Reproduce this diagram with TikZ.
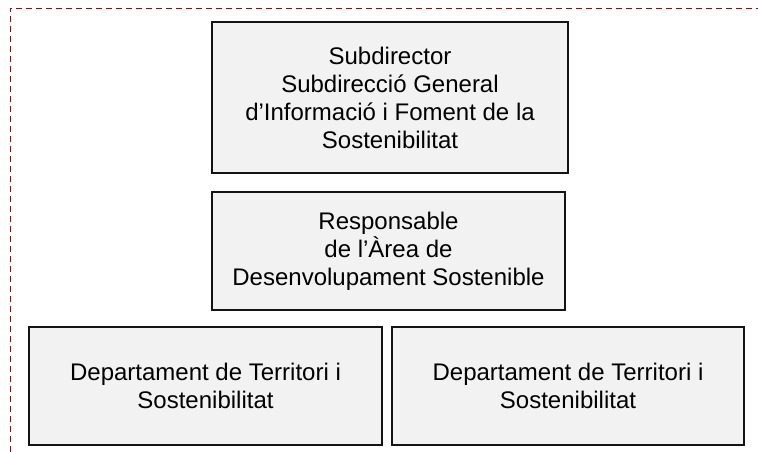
\documentclass[tikz,border=0pt]{standalone}
\usepackage{fontspec}
\setmainfont{Liberation Sans}
\definecolor{frame}{RGB}{122,22,22}
\definecolor{boxfill}{RGB}{242,242,242}
\definecolor{boxline}{RGB}{20,20,20}
\begin{document}
\begin{tikzpicture}[x=1pt,y=-1pt,
  orgbox/.style={draw=boxline, line width=1.4pt, fill=boxfill, inner sep=0pt,
    font=\fontsize{24}{28}\selectfont, align=center, text=black},
  framedash/.style={draw=frame, line width=0.9pt, dash pattern=on 6pt off 4pt}]
\useasboundingbox (0,0) rectangle (758,452);
\coordinate (fa) at (10,452);
\coordinate (fb) at (10,8);
\coordinate (fc) at (758,8);
\draw[framedash] (fa) -- (fb) -- (fc);
\node[orgbox, minimum width=356pt, minimum height=151pt] (sub) at (390,97.5)
  {Subdirector\\Subdirecció General\\d’Informació i Foment de la\\Sostenibilitat};
\node[orgbox, minimum width=353pt, minimum height=118pt] (resp) at (388.5,251)
  {Responsable\\de l’Àrea de\\Desenvolupament Sostenible};
\node[orgbox, minimum width=353pt, minimum height=118pt] (dep1) at (205.5,386)
  {Departament de Territori i\\Sostenibilitat};
\node[orgbox, minimum width=352pt, minimum height=118pt] (dep2) at (568,386)
  {Departament de Territori i\\Sostenibilitat};
\end{tikzpicture}
\end{document}
